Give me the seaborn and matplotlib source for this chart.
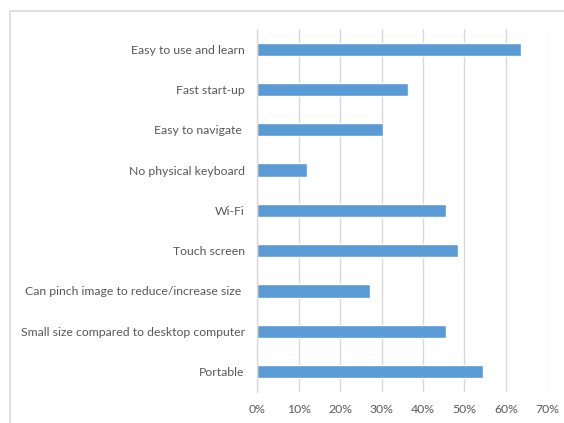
import matplotlib
matplotlib.use("Agg")
import matplotlib.pyplot as plt
import matplotlib.patches as mpatches
from matplotlib.ticker import FuncFormatter
import seaborn as sns
import pandas as pd

features = [
    "Easy to use and learn",
    "Fast start-up",
    "Easy to navigate ",
    "No physical keyboard",
    "Wi-Fi",
    "Touch screen",
    "Can pinch image to reduce/increase size ",
    "Small size compared to desktop computer",
    "Portable",
]
shares = [0.636, 0.364, 0.303, 0.121, 0.455, 0.485, 0.273, 0.455, 0.545]
x_ticks = [0.0, 0.1, 0.2, 0.3, 0.4, 0.5, 0.6, 0.7]

df = pd.DataFrame({"feature": features, "share": shares})

sns.set_theme(style="white")
plt.rcParams["font.family"] = ["Lato", "DejaVu Sans"]

W, H = 564, 423
fig = plt.figure(figsize=(W / 100, H / 100), dpi=100)
fig.patch.set_facecolor("white")

# chart frame
fig.patches.append(mpatches.Rectangle((9.5 / W, -0.1), 1.2, (H - 11.5) / H + 0.1,
                                      transform=fig.transFigure, fill=False,
                                      edgecolor="#d9d9d9", linewidth=1.2))

ax = fig.add_axes([257.3 / W, (H - 391.7) / H, (547.3 - 257.3) / W, (391.7 - 29) / H])
sns.barplot(data=df, x="share", y="feature", orient="h", color="#5B9BD5",
            saturation=1, width=0.33, ax=ax)

ax.set_xlim(0, 0.7)
ax.set_xticks(x_ticks)
ax.xaxis.set_major_formatter(FuncFormatter(lambda v, _: f"{v * 100:.0f}%"))
ax.grid(axis="x", color="#d9d9d9", linewidth=1.0)
ax.set_axisbelow(True)
for side in ["top", "right", "bottom"]:
    ax.spines[side].set_visible(False)
ax.spines["left"].set_color("#d9d9d9")
ax.spines["left"].set_linewidth(1.0)
ax.set_xlabel("")
ax.set_ylabel("")
ax.tick_params(axis="both", length=0, labelsize=8.8, labelcolor="#595959")
ax.tick_params(axis="y", pad=9)
ax.tick_params(axis="x", pad=9)

fig.savefig("out.png", dpi=100)
